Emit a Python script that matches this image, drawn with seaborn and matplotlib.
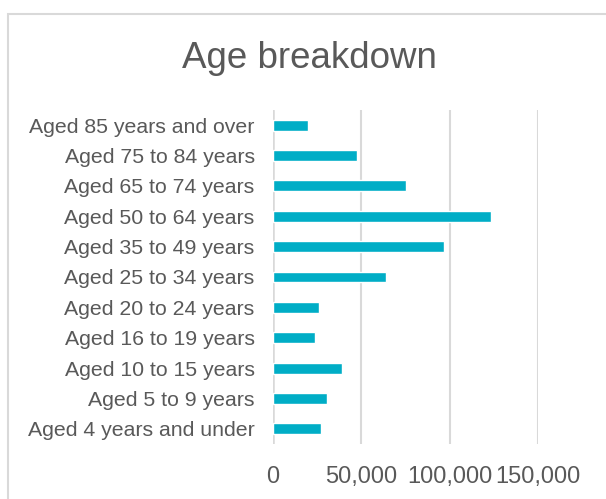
import matplotlib
matplotlib.use("Agg")
import matplotlib.pyplot as plt
from matplotlib.patches import Rectangle
from matplotlib.ticker import FuncFormatter
import seaborn as sns
import pandas as pd

# Population by age group
age_groups = [
    "Aged 85 years and over",
    "Aged 75 to 84 years",
    "Aged 65 to 74 years",
    "Aged 50 to 64 years",
    "Aged 35 to 49 years",
    "Aged 25 to 34 years",
    "Aged 20 to 24 years",
    "Aged 16 to 19 years",
    "Aged 10 to 15 years",
    "Aged 5 to 9 years",
    "Aged 4 years and under",
]
population = [19600, 47800, 75000, 123400, 96800, 63700, 26200, 23600, 39200, 30700, 27300]
x_ticks = [0, 50000, 100000, 150000]

df = pd.DataFrame({"group": age_groups, "people": population})

sns.set_theme(style="white")
plt.rcParams["font.family"] = ["Liberation Sans", "DejaVu Sans"]

text_col = "#595959"
grid_col = "#D9D9D9"
bar_col = "#00ADC6"

fig = plt.figure(figsize=(6.06, 4.99), dpi=100)
ax = fig.add_axes([273 / 606, 1 - 444 / 499, (538 - 273) / 606, (444 - 110) / 499])

sns.barplot(data=df, x="people", y="group", order=age_groups, orient="h",
            color=bar_col, saturation=1, width=0.36, ax=ax, zorder=3)

ax.set_xlim(0, 150000)
ax.set_xticks(x_ticks)
ax.xaxis.set_major_formatter(FuncFormatter(lambda v, p: f"{int(v):,}"))
ax.grid(axis="x", color=grid_col, linewidth=1.5, zorder=0)
ax.grid(axis="y", visible=False)
for s in ax.spines.values():
    s.set_visible(False)
ax.axvline(0, color=grid_col, linewidth=1.8, zorder=2)

ax.set_xlabel("")
ax.set_ylabel("")
ax.tick_params(axis="x", length=0, pad=16, labelsize=17, labelcolor=text_col)
ax.tick_params(axis="y", length=0, pad=13.2, labelsize=15.3, labelcolor=text_col)

fig.text(309 / 606, 1 - 67.5 / 499, "Age breakdown", ha="center", va="baseline",
         fontsize=26.5, color=text_col)

# chart frame
fig.patches.append(Rectangle((8 / 606, -0.1), 1.2, 1 - 14 / 499 + 0.1,
                             transform=fig.transFigure, fill=False,
                             edgecolor=grid_col, linewidth=1.5, clip_on=False))

fig.savefig("out.png", dpi=100, facecolor="white")
